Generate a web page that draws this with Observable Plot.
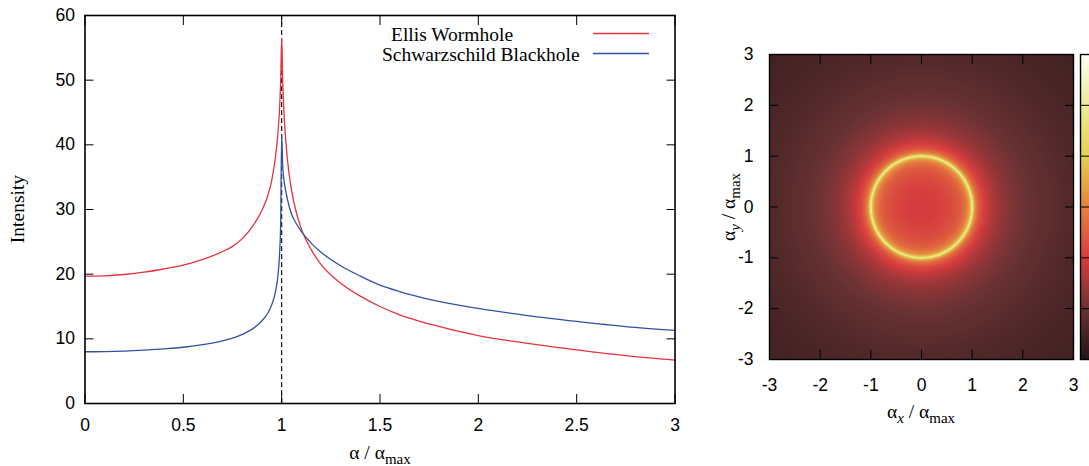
<!DOCTYPE html>
<html><head><meta charset="utf-8">
<script src="https://cdn.jsdelivr.net/npm/d3@7"></script>
<script src="https://cdn.jsdelivr.net/npm/@observablehq/plot@0.6"></script>
<style>
html,body{margin:0;padding:0;background:#fff;overflow:hidden}
#wrap{position:relative;width:1089px;height:466px;overflow:hidden}
#wrap > *{position:absolute;top:0}
</style></head><body><div id="wrap"></div>
<script>
// ---- data ----
const alpha = [0, 0.1, 0.2, 0.3, 0.4, 0.5, 0.6, 0.7, 0.75, 0.8, 0.85, 0.9, 0.93, 0.95, 0.97, 0.98, 0.99, 0.995, 1.0,
  1.005, 1.01, 1.02, 1.03, 1.05, 1.075, 1.1, 1.15, 1.2, 1.3, 1.4, 1.5, 1.6, 1.75, 2.0, 2.25, 2.5, 2.75, 3.0];
const ellis = [19.7, 19.75, 19.95, 20.3, 20.8, 21.4, 22.3, 23.5, 24.3, 25.5, 27.3, 29.9, 32.2, 34.6, 38.5, 41.5, 46.0, 50.0, 56.5,
  50.0, 46.0, 41.0, 37.5, 33.0, 29.5, 27.0, 23.8, 21.5, 18.6, 16.6, 15.0, 13.7, 12.3, 10.5, 9.3, 8.3, 7.4, 6.7];
const schwarzschild = [8.0, 8.02, 8.1, 8.25, 8.45, 8.7, 9.1, 9.7, 10.1, 10.7, 11.5, 12.8, 14.0, 15.3, 17.5, 19.5, 23.5, 28.0, 41.5,
  37.0, 35.0, 33.0, 31.5, 29.3, 27.8, 26.6, 24.8, 23.4, 21.3, 19.7, 18.3, 17.3, 16.1, 14.7, 13.6, 12.7, 11.9, 11.3];
const seriesNames = ["Ellis Wormhole", "Schwarzschild Blackhole"];
const seriesColors = ["#e8333b", "#3352a3"];
const criticalAlpha = [1];
const xTicks = [0, 0.5, 1, 1.5, 2, 2.5, 3];
const yTicks = [0, 10, 20, 30, 40, 50, 60];
const mapTicks = [-3, -2, -1, 0, 1, 2, 3];
const colorStops = [0, 10, 20, 30, 40, 50, 60];
const colorRange = ["#221517", "#6a3234", "#d63c3e", "#e6823f", "#e2d24c", "#ecec98", "#fdfdf6"];
// heat map radial profile beyond alpha = 3 (corners of the image)
const cornerRadius = [3.5, 4.0, 4.3];
const cornerIntensity = [5.6, 4.8, 4.3];

const SANS = "Liberation Sans, Arial, Helvetica, sans-serif";
const SERIF = "Liberation Serif, Times New Roman, serif";
const wrap = document.getElementById("wrap");

const ellisRows = alpha.map((a, i) => ({a, v: ellis[i]}));
const schRows = alpha.map((a, i) => ({a, v: schwarzschild[i]}));
const noLab = () => "";

const left = Plot.plot({
  width: 700, height: 466,
  marginLeft: 84.5, marginRight: 25.5, marginTop: 15, marginBottom: 63,
  style: {fontFamily: SANS, fontSize: "17.5px", background: "transparent", color: "black", overflow: "visible"},
  x: {domain: [0, 3]}, y: {domain: [0, 60]},
  marks: [
    Plot.ruleX(criticalAlpha, {y1: 0, y2: 60, stroke: "black", strokeDasharray: "5,3", strokeWidth: 1.1}),
    Plot.line(ellisRows, {x: "a", y: "v", stroke: seriesColors[0], strokeWidth: 1.3, curve: "monotone-x"}),
    Plot.line(schRows, {x: "a", y: "v", stroke: seriesColors[1], strokeWidth: 1.3, curve: "monotone-x"}),
    Plot.axisX({ticks: xTicks, anchor: "bottom", tickSize: -9, tickFormat: noLab, label: null}),
    Plot.axisX({ticks: xTicks, anchor: "top", tickSize: -9, tickFormat: noLab, label: null}),
    Plot.axisY({ticks: yTicks, anchor: "left", tickSize: -9, tickFormat: noLab, label: null}),
    Plot.axisY({ticks: yTicks, anchor: "right", tickSize: -9, tickFormat: noLab, label: null}),
    Plot.axisX({ticks: xTicks, anchor: "bottom", tickSize: 0, tickPadding: 15, label: null, tickFormat: d => String(d)}),
    Plot.axisY({ticks: yTicks, anchor: "left", tickSize: 0, tickPadding: 10, label: null, tickFormat: d => String(d)}),
    Plot.frame({stroke: "black", strokeWidth: 1.6})
  ]
});
left.style.left = "0px";
wrap.appendChild(left);
{
  const s = d3.select(left);
  const g = s.append("g").attr("font-family", SERIF).attr("font-size", 19.5).attr("fill", "black");
  g.append("text").attr("text-anchor", "start").attr("x", 391).attr("y", 40.5).text(seriesNames[0]);
  g.append("text").attr("text-anchor", "start").attr("x", 382).attr("y", 60.5).text(seriesNames[1]);
  s.append("line").attr("x1", 593).attr("x2", 649).attr("y1", 33.5).attr("y2", 33.5).attr("stroke", seriesColors[0]).attr("stroke-width", 1.5);
  s.append("line").attr("x1", 593).attr("x2", 649).attr("y1", 53.5).attr("y2", 53.5).attr("stroke", seriesColors[1]).attr("stroke-width", 1.5);
  g.append("text").attr("transform", "translate(24,209) rotate(-90)").attr("text-anchor", "middle").text("Intensity");
  const xl = g.append("text").attr("x", 380).attr("y", 459).attr("text-anchor", "middle");
  xl.append("tspan").text("α / α");
  xl.append("tspan").attr("font-size", 15).attr("dy", 5).text("max");
}

// heat map radial profile (Ellis wormhole), sorted by radius
const heatR = alpha.concat(cornerRadius);
const heatV = ellis.concat(cornerIntensity);
function intensityAt(r) {
  if (r <= heatR[0]) return heatV[0];
  const n = heatR.length;
  if (r >= heatR[n - 1]) return heatV[n - 1];
  const i = d3.bisectRight(heatR, r);
  const t = (r - heatR[i - 1]) / (heatR[i] - heatR[i - 1]);
  return heatV[i - 1] + t * (heatV[i] - heatV[i - 1]);
}
const colorOpts = {type: "linear", domain: colorStops, range: colorRange, clamp: true};

const right = Plot.plot({
  width: 389, height: 466,
  marginLeft: 69, marginRight: 16, marginTop: 54, marginBottom: 107,
  style: {fontFamily: SANS, fontSize: "17.5px", background: "transparent", color: "black", overflow: "visible"},
  x: {domain: [-3, 3]}, y: {domain: [-3, 3]},
  color: colorOpts,
  marks: [
    Plot.raster({x1: -3, x2: 3, y1: -3, y2: 3, fill: (x, y) => intensityAt(Math.hypot(x, y)), pixelSize: 1}),
    Plot.axisX({ticks: mapTicks, anchor: "bottom", tickSize: -9, tickFormat: noLab, label: null}),
    Plot.axisX({ticks: mapTicks, anchor: "top", tickSize: -9, tickFormat: noLab, label: null}),
    Plot.axisY({ticks: mapTicks, anchor: "left", tickSize: -9, tickFormat: noLab, label: null}),
    Plot.axisY({ticks: mapTicks, anchor: "right", tickSize: -9, tickFormat: noLab, label: null}),
    Plot.axisX({ticks: mapTicks, anchor: "bottom", tickSize: 0, tickPadding: 19, label: null, tickFormat: d => String(d)}),
    Plot.axisY({ticks: mapTicks, anchor: "left", tickSize: 0, tickPadding: 16, label: null, tickFormat: d => String(d)}),
    Plot.frame({stroke: "black", strokeWidth: 1.4})
  ]
});
right.style.left = "700px";
wrap.appendChild(right);
{
  const s = d3.select(right);
  const g = s.append("g").attr("font-family", SERIF).attr("font-size", 19.5).attr("fill", "black");
  const xl = g.append("text").attr("x", 221).attr("y", 418).attr("text-anchor", "middle");
  xl.append("tspan").text("α");
  xl.append("tspan").attr("font-size", 15).attr("font-style", "italic").attr("dy", 5).text("x");
  xl.append("tspan").attr("dy", -5).text(" / α");
  xl.append("tspan").attr("font-size", 15).attr("dy", 5).text("max");
  const yl = g.append("text").attr("transform", "translate(35,207) rotate(-90)").attr("text-anchor", "middle");
  yl.append("tspan").text("α");
  yl.append("tspan").attr("font-size", 15).attr("font-style", "italic").attr("dy", 5).text("y");
  yl.append("tspan").attr("dy", -5).text(" / α");
  yl.append("tspan").attr("font-size", 15).attr("dy", 5).text("max");
}

const bar = Plot.plot({
  width: 60, height: 466,
  marginLeft: 1, marginRight: 0, marginTop: 54, marginBottom: 107,
  style: {background: "transparent", overflow: "visible"},
  x: {domain: [0, 1], axis: null}, y: {domain: [0, 60], axis: null},
  color: colorOpts,
  marks: [
    Plot.raster({x1: 0, x2: 1, y1: 0, y2: 60, fill: (x, y) => y, pixelSize: 1}),
    Plot.axisY({ticks: colorStops, anchor: "left", tickSize: -9, tickFormat: noLab, label: null}),
    Plot.frame({stroke: "black", strokeWidth: 1.4})
  ]
});
bar.style.left = "1079px";
wrap.appendChild(bar);
</script></body></html>
